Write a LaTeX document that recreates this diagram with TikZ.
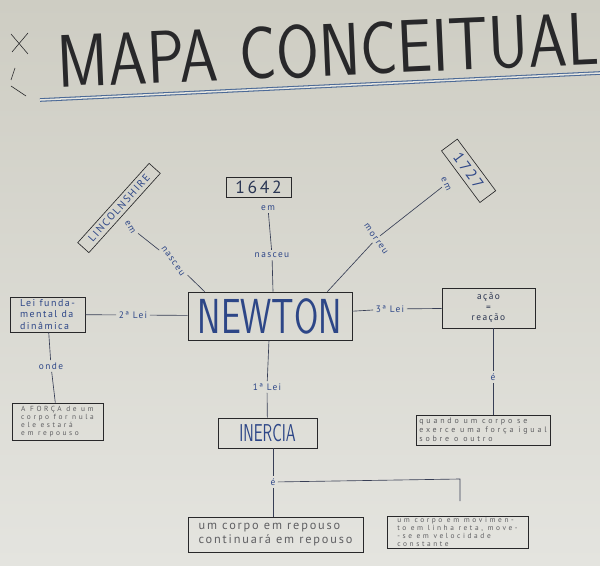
\documentclass[tikz,border=0pt]{standalone}
\usepackage{fontspec}
\setmainfont{PT Sans}
\newfontfamily\hand[LetterSpace=15]{PT Sans}
\newfontfamily\handwide[LetterSpace=35]{PT Sans}
\usepackage{graphicx}
\definecolor{paperT}{RGB}{206,205,195}
\definecolor{paperB}{RGB}{228,228,223}
\definecolor{ink}{RGB}{40,40,42}
\definecolor{bpen}{RGB}{45,70,135}
\definecolor{pencil}{RGB}{95,95,98}
\definecolor{rulec}{RGB}{75,105,150}
\definecolor{linkc}{RGB}{55,62,85}
\begin{document}
\begin{tikzpicture}[x=0.03cm,y=-0.03cm,
  box/.style={draw=ink,line width=0.55pt,inner sep=1pt,align=center},
  lbl/.style={text=bpen,font=\hand\fontsize{8}{9}\selectfont,inner sep=2pt},
  link/.style={draw=linkc,line width=0.55pt},
  note/.style={box,text=pencil,font=\handwide\fontsize{6.3}{7}\selectfont,align=left,inner xsep=3pt,inner ysep=0.5pt},
]
\path[use as bounding box] (0,0) rectangle (600,565);
\clip (0,0) rectangle (600,565);
\shade[top color=paperT,bottom color=paperB] (0,0) rectangle (600,565);

% title
\node[rotate=2.5,text=ink,font=\sffamily\fontsize{53}{53}\selectfont,inner sep=0pt] (title) at (328,50) {\scalebox{1}[1.2]{MAPA\,\,CONCEITUAL}};
\coordinate (ulA) at (40,100);
\coordinate (ulB) at (600,73);
\draw[rulec,line width=0.9pt,double=paperT!50!white,double distance=1.3pt] (ulA) -- (ulB);
\draw[ink,line width=0.5pt] (11,34) -- (28,54) (28,33) -- (12,52) (15,68) -- (11,80) (11,86) -- (26,96);

% Newton
\node[box,minimum width=4.92cm,minimum height=1.44cm,text=bpen,font=\sffamily\fontsize{30}{30}\selectfont] (newton) at (270,316) {\scalebox{1}[1.4]{NEWTON}};

% Lincolnshire
\node[box,rotate=48,minimum width=3.2cm,minimum height=0.45cm,inner sep=0pt,text=bpen,font=\hand\fontsize{9}{9}\selectfont] (linc) at (119,208) {LINCOLNSHIRE};
\node[lbl,rotate=-60] (emA) at (130,227) {em};
\node[lbl,rotate=-55] (nascA) at (173,261) {nasceu};
\draw[link] (emA) -- (nascA);
\draw[link] (nascA) -- ([xshift=0.51cm]newton.north west);

% 1642
\node[box,minimum width=1.95cm,minimum height=0.6cm,inner sep=0pt,text=ink!55!bpen,font=\hand\fontsize{15}{15}\selectfont] (y1642) at (258.5,187) {1642};
\node[lbl] (emB) at (268,208) {em};
\node[lbl] (nascB) at (272,255) {nasceu};
\draw[link] (emB) -- (nascB);
\draw[link] (nascB) -- ([xshift=0.09cm]newton.north);

% 1727
\node[box,rotate=-53.4,minimum width=1.93cm,minimum height=0.59cm,inner sep=0pt,text=bpen,font=\hand\fontsize{13}{13}\selectfont] (y1727) at (468.6,170.8) {1727};
\node[lbl,rotate=-65] (emC) at (446,184) {em};
\node[lbl,rotate=-55] (morreu) at (376,239) {morreu};
\draw[link] (emC) -- (morreu);
\draw[link] (morreu) -- ([xshift=-0.75cm]newton.north east);

% 2a lei
\node[box,minimum width=2.25cm,minimum height=1.05cm,text=bpen,align=left,font=\hand\fontsize{8.5}{9.5}\selectfont] (lei) at (47.5,314.5) {Lei funda-\\mental da\\dinâmica};
\node[lbl] (lei2) at (133,315) {2ª Lei};
\draw[link] (newton) -- (lei2);
\draw[link] (lei2) -- (lei);
\node[lbl] (onde) at (51,366) {onde};
\draw[link] (lei) -- (onde);
\node[note,minimum width=2.73cm,minimum height=1.11cm] (forca) at (57.5,421.5) {A FORÇA de um\\corpo for nula\\ele estará\\em repouso};
\draw[link] (onde) -- (forca);

% 3a lei
\node[lbl] (lei3) at (390,309) {3ª Lei};
\node[box,minimum width=2.79cm,minimum height=1.2cm,text=ink!60!bpen,font=\hand\fontsize{8}{9}\selectfont] (acao) at (488.5,308) {ação\\=\\reação};
\draw[link] (newton) -- (lei3);
\draw[link] (lei3) -- (acao);
\node[lbl] (e1) at (493,377) {é};
\draw[link] ([xshift=0.135cm]acao.south) -- (e1);
\node[note,minimum width=3.6cm,minimum height=0.9cm,font=\handwide\fontsize{6.8}{7.6}\selectfont] (quando) at (483,430) {quando um corpo se\\exerce uma força igual\\sobre o outro};
\draw[link] (e1) -- (e1 |- quando.north);

% 1a lei
\node[lbl] (lei1) at (267,387) {1ª Lei};
\node[box,minimum width=2.97cm,minimum height=0.9cm,text=bpen,font=\sffamily\fontsize{13}{13}\selectfont] (inercia) at (267.5,433) {\scalebox{1}[1.6]{INERCIA}};
\draw[link] (newton) -- (lei1);
\draw[link] (lei1) -- (inercia);
\node[lbl] (e2) at (273,482) {é};
\draw[link] (inercia.south -| e2) -- (e2);
\node[note,minimum width=5.25cm,minimum height=1.05cm,font=\hand\fontsize{10.5}{12}\selectfont] (repouso) at (275.5,534.5) {um corpo em repouso\\continuará em repouso};
\draw[link] (e2) -- (e2 |- repouso.north);
\coordinate (turn) at (460,479);
\coordinate (stub) at (460,501);
\draw[link] (e2) -- (turn) -- (stub);
\node[note,minimum width=4.23cm,minimum height=0.96cm] (movim) at (457.5,532) {um corpo em movimen-\\to em linha reta, move-\\-se em velocidade\\constante};
\end{tikzpicture}
\end{document}
